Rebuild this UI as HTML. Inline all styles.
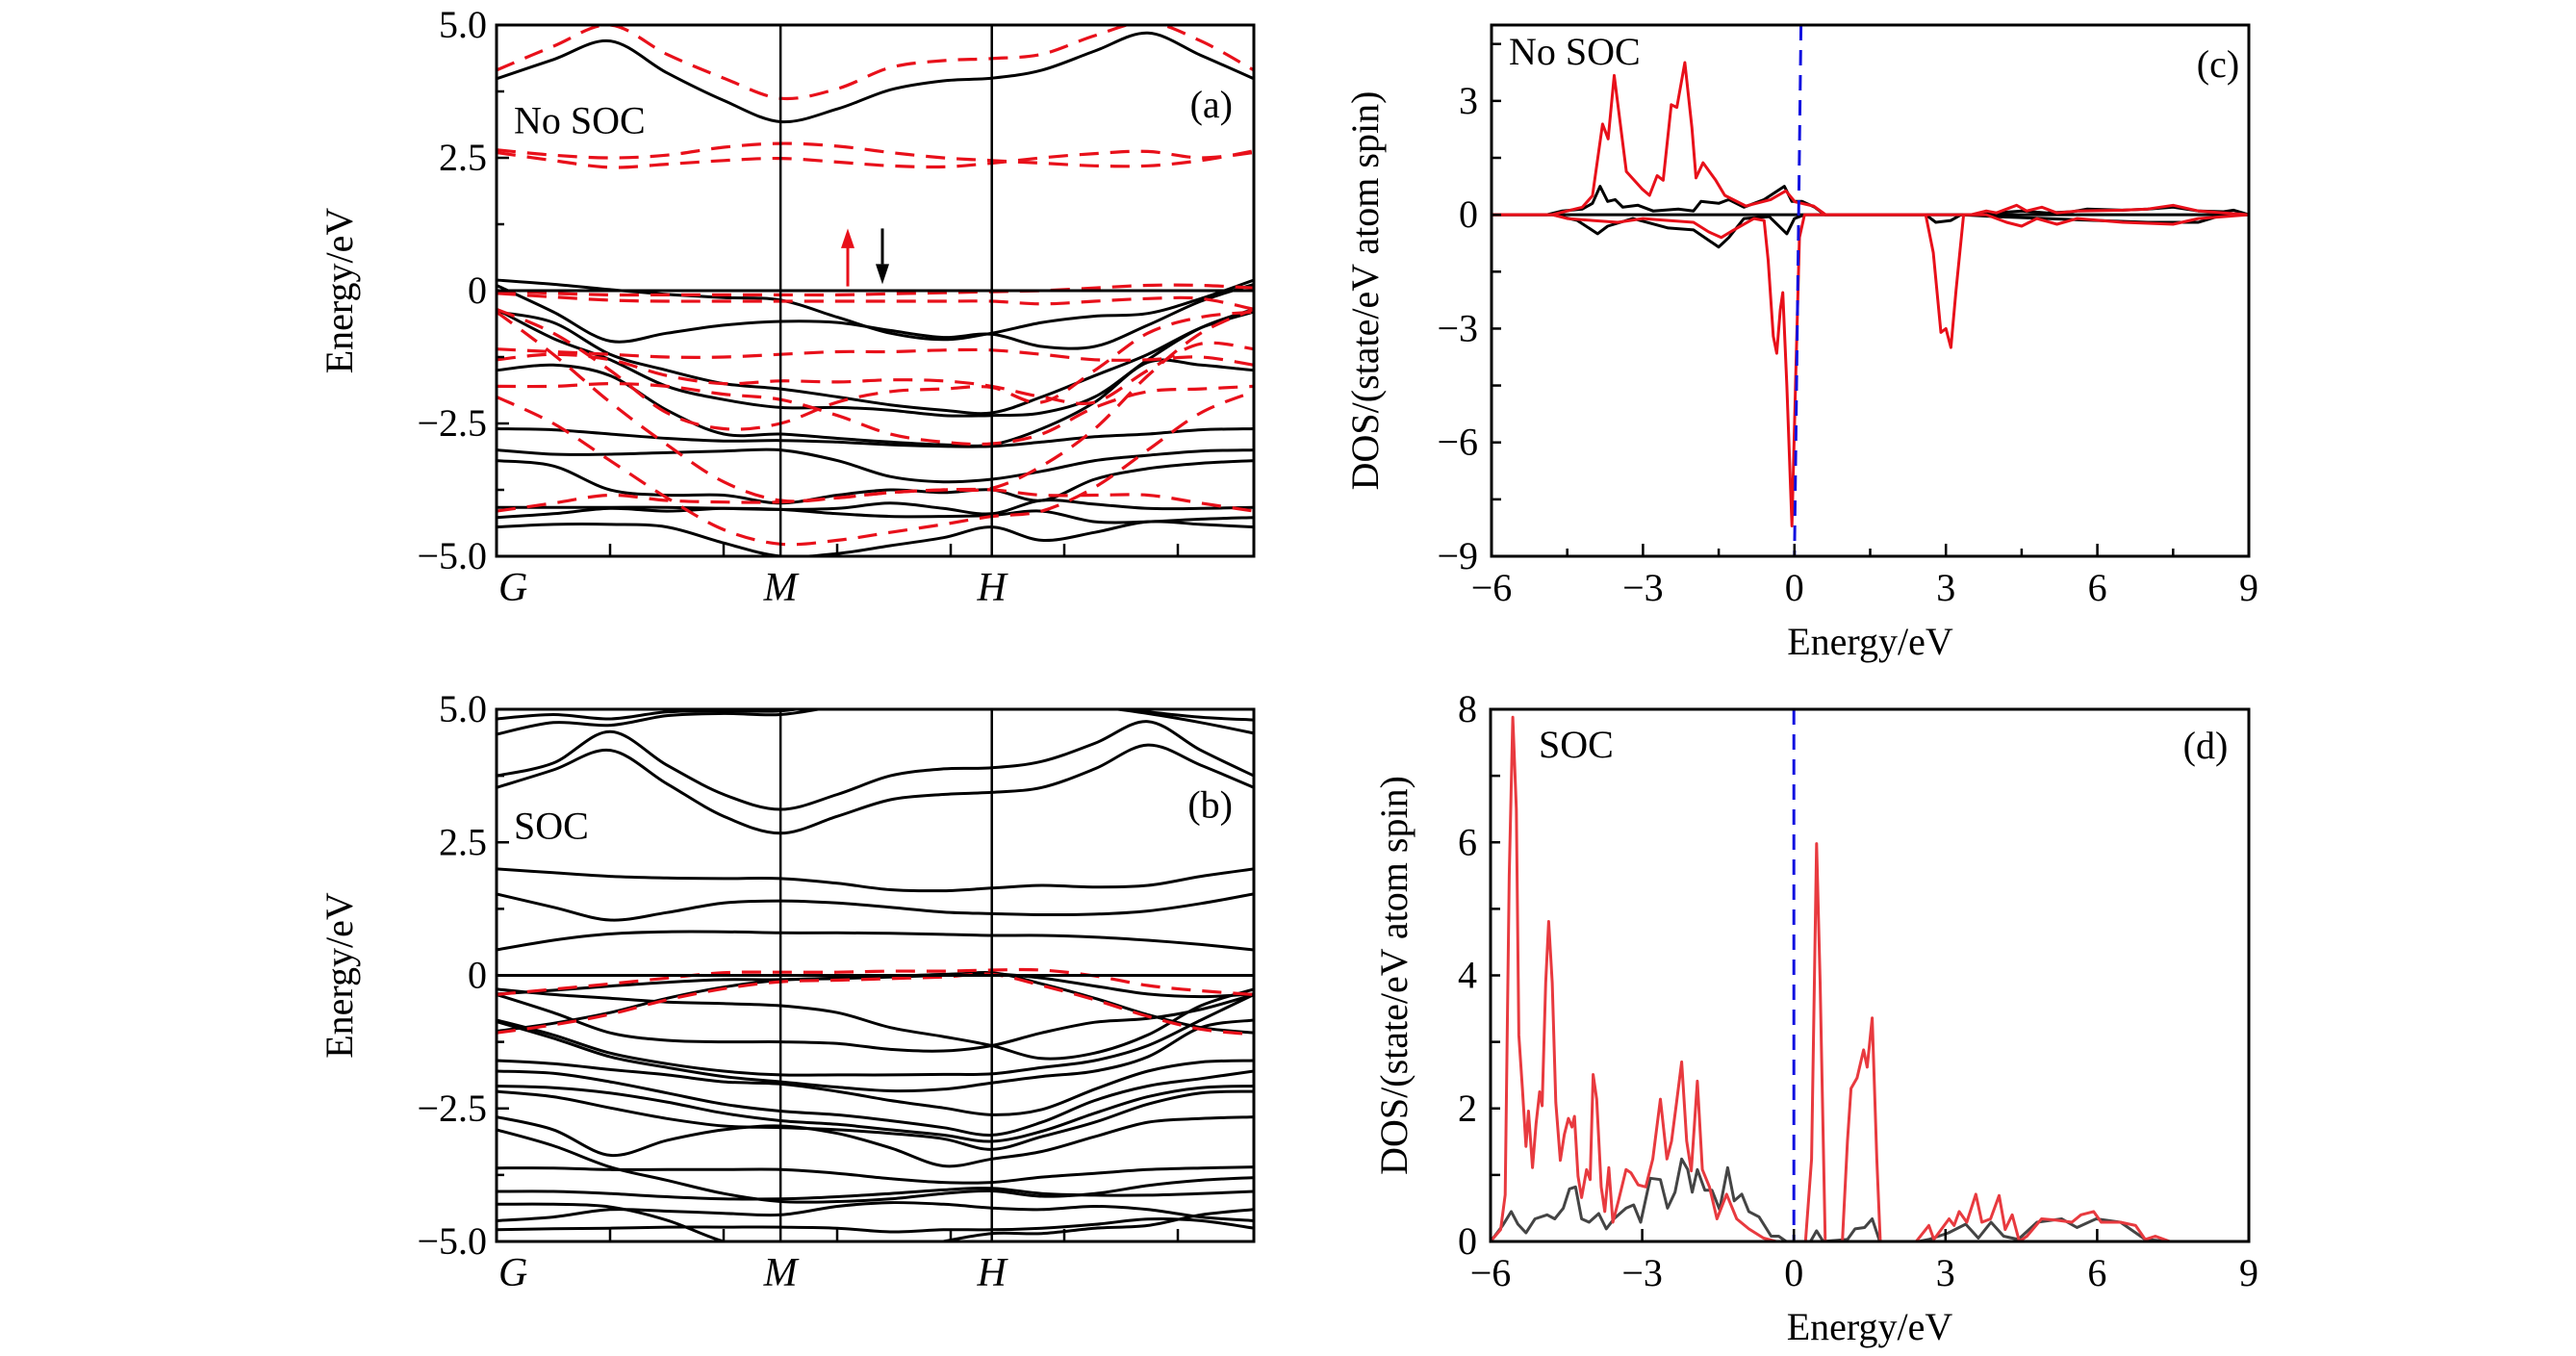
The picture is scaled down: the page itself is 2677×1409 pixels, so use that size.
<!DOCTYPE html>
<html><head><meta charset="utf-8">
<style>
html,body{margin:0;padding:0;background:#fff;}
svg{display:block;font-family:"Liberation Serif","DejaVu Serif",serif;}
text{font-family:"Liberation Serif","DejaVu Serif",serif;fill:#000;}
</style></head>
<body>
<svg id="fig" width="2677" height="1409" viewBox="0 0 2677 1409" xmlns="http://www.w3.org/2000/svg">
<defs>
<clipPath id="clipA"><rect x="516" y="26" width="787" height="552"/></clipPath>
<clipPath id="clipB"><rect x="516" y="737" width="787" height="553"/></clipPath>
<clipPath id="clipC"><rect x="1550" y="26" width="787" height="552"/></clipPath>
<clipPath id="clipD"><rect x="1549" y="737" width="788" height="553"/></clipPath>
</defs>
<g id="gA"></g>
<g id="gB"></g>
<g id="gC"></g>
<g id="gD"></g>
</svg>
<script>
// ---------- data ----------
const kPoints = [0,0.075,0.15,0.225,0.3,0.375,0.45,0.52,0.59,0.654,0.72,0.79,0.86,0.93,1];
const kLabels = ["G","M","H"];
const kLabelPos = [0,0.375,0.654];
const bandTicks = [5,2.5,0,-2.5,-5];
const bandTickLabels = ["5.0","2.5","0","\u22122.5","\u22125.0"];

const bandsANoSocBlack = [
[3.99,4.35,4.7,4.1,3.58,3.18,3.42,3.78,3.95,4.0,4.15,4.51,4.85,4.43,3.99],
[0.2,0.12,0.02,-0.07,-0.13,-0.18,-0.5,-0.8,-0.92,-0.8,-0.6,-0.48,-0.43,-0.15,0.2],
[0.1,-0.4,-0.95,-0.8,-0.65,-0.58,-0.6,-0.75,-0.88,-0.82,-1.05,-1.05,-0.65,-0.2,0.12],
[-0.4,-0.6,-1.2,-1.5,-1.75,-1.85,-2.0,-2.15,-2.25,-2.3,-2.0,-1.6,-1.2,-0.7,-0.4],
[-0.35,-0.9,-1.3,-1.8,-2.05,-2.2,-2.2,-2.25,-2.35,-2.35,-2.3,-2.0,-1.3,-0.7,-0.35],
[-1.5,-1.4,-1.6,-2.25,-2.7,-2.7,-2.78,-2.85,-2.9,-2.9,-2.6,-2.1,-1.35,-1.4,-1.5],
[-2.6,-2.62,-2.7,-2.78,-2.83,-2.82,-2.85,-2.9,-2.93,-2.93,-2.85,-2.75,-2.7,-2.62,-2.6],
[-3.0,-3.08,-3.08,-3.05,-3.02,-3.0,-3.2,-3.5,-3.6,-3.55,-3.4,-3.2,-3.1,-3.02,-3.0],
[-3.2,-3.3,-3.75,-3.85,-3.85,-4.0,-3.85,-3.75,-3.8,-3.75,-3.95,-3.55,-3.35,-3.25,-3.2],
[-4.08,-4.08,-4.08,-4.08,-4.1,-4.12,-4.1,-4.0,-4.1,-4.2,-3.95,-4.02,-4.1,-4.1,-4.08],
[-4.27,-4.2,-4.1,-4.15,-4.1,-4.12,-4.2,-4.25,-4.25,-4.23,-4.15,-4.35,-4.35,-4.3,-4.27],
[-4.45,-4.4,-4.4,-4.45,-4.75,-5.0,-4.95,-4.8,-4.65,-4.45,-4.7,-4.55,-4.35,-4.4,-4.45]
];
const bandsANoSocRed = [
[4.15,4.6,5.0,4.45,4.0,3.62,3.8,4.2,4.33,4.37,4.45,4.8,5.05,4.7,4.15],
[2.6,2.45,2.32,2.38,2.45,2.49,2.42,2.35,2.33,2.4,2.5,2.58,2.62,2.5,2.6],
[2.65,2.55,2.5,2.55,2.7,2.77,2.72,2.6,2.5,2.45,2.4,2.35,2.35,2.45,2.63],
[0.0,-0.05,-0.08,-0.08,-0.08,-0.08,-0.08,-0.06,-0.04,-0.02,0.0,0.05,0.1,0.1,0.05],
[-0.05,-0.12,-0.18,-0.2,-0.2,-0.2,-0.2,-0.2,-0.2,-0.2,-0.25,-0.2,-0.15,-0.15,-0.35],
[-0.35,-0.8,-1.5,-2.3,-2.6,-2.5,-2.1,-1.9,-1.85,-1.82,-2.1,-1.5,-0.8,-0.5,-0.4],
[-0.4,-1.2,-2.1,-2.9,-3.6,-3.95,-3.9,-3.8,-3.75,-3.72,-3.3,-2.6,-1.6,-0.8,-0.35],
[-1.1,-1.15,-1.2,-1.25,-1.25,-1.2,-1.15,-1.15,-1.12,-1.12,-1.2,-1.3,-1.3,-1.25,-1.4],
[-1.3,-1.2,-1.3,-1.6,-1.75,-1.7,-1.72,-1.68,-1.7,-1.8,-2.0,-2.1,-1.5,-1.0,-1.1],
[-1.8,-1.8,-1.75,-1.8,-1.95,-2.05,-2.35,-2.7,-2.85,-2.88,-2.7,-2.2,-1.9,-1.85,-1.8],
[-4.15,-4.0,-3.85,-3.95,-3.98,-3.98,-3.9,-3.8,-3.75,-3.75,-3.85,-3.85,-3.85,-4.0,-4.15],
[-2.0,-2.5,-3.2,-3.9,-4.5,-4.77,-4.7,-4.55,-4.4,-4.25,-4.15,-3.7,-3.0,-2.3,-1.9]
];
const bandsBSocBlack = [
[4.82,4.9,4.82,4.95,4.97,4.97,5.1,5.1,5.1,5.1,5.1,5.05,4.95,4.85,4.8],
[4.53,4.75,4.7,4.88,4.92,4.9,5.05,5.1,5.1,5.1,5.1,5.05,4.92,4.75,4.55],
[3.75,3.99,4.58,3.95,3.4,3.12,3.4,3.75,3.88,3.9,4.02,4.36,4.77,4.23,3.75],
[3.53,3.86,4.23,3.6,2.99,2.67,2.99,3.3,3.4,3.44,3.53,3.88,4.33,3.95,3.53],
[2.0,1.93,1.86,1.83,1.82,1.82,1.73,1.61,1.59,1.64,1.69,1.66,1.69,1.86,2.0],
[1.53,1.28,1.04,1.18,1.36,1.4,1.36,1.28,1.19,1.16,1.14,1.15,1.21,1.35,1.53],
[0.48,0.66,0.78,0.82,0.82,0.8,0.8,0.79,0.77,0.75,0.75,0.72,0.66,0.58,0.48],
[-0.35,-0.28,-0.2,-0.13,-0.08,-0.08,-0.05,-0.02,0.02,0.03,-0.05,-0.2,-0.35,-0.4,-0.35],
[-1.05,-0.9,-0.7,-0.43,-0.22,-0.09,-0.06,-0.03,0.0,0.05,-0.16,-0.43,-0.74,-0.98,-1.08],
[-0.26,-0.36,-0.43,-0.5,-0.53,-0.57,-0.7,-0.98,-1.15,-1.32,-1.56,-1.46,-1.12,-0.57,-0.26],
[-0.36,-0.7,-1.08,-1.22,-1.25,-1.25,-1.28,-1.39,-1.42,-1.32,-1.08,-0.88,-0.81,-0.64,-0.36],
[-0.84,-1.12,-1.46,-1.66,-1.8,-1.87,-1.87,-1.87,-1.86,-1.85,-1.73,-1.6,-1.32,-0.84,-0.36],
[-0.87,-1.18,-1.53,-1.73,-1.9,-2.0,-2.1,-2.17,-2.14,-2.02,-1.9,-1.8,-1.53,-0.98,-0.84],
[-1.6,-1.66,-1.77,-1.87,-2.0,-2.04,-2.18,-2.35,-2.49,-2.62,-2.52,-2.14,-1.8,-1.63,-1.6],
[-1.8,-1.84,-2.0,-2.21,-2.42,-2.55,-2.62,-2.73,-2.86,-3.0,-2.76,-2.35,-2.08,-1.94,-1.8],
[-2.08,-2.11,-2.21,-2.38,-2.59,-2.73,-2.8,-2.9,-3.0,-3.12,-2.93,-2.59,-2.28,-2.11,-2.08],
[-2.18,-2.28,-2.49,-2.69,-2.83,-2.86,-2.9,-2.97,-3.07,-3.27,-3.03,-2.76,-2.42,-2.21,-2.18],
[-2.66,-2.9,-3.38,-3.1,-2.9,-2.83,-2.97,-3.24,-3.58,-3.45,-3.31,-3.03,-2.76,-2.69,-2.66],
[-3.62,-3.62,-3.65,-3.65,-3.65,-3.65,-3.72,-3.82,-3.89,-3.89,-3.79,-3.72,-3.65,-3.62,-3.6],
[-4.06,-4.06,-4.1,-4.16,-4.2,-4.2,-4.16,-4.1,-4.03,-4.0,-4.1,-4.13,-4.13,-4.1,-4.06],
[-2.9,-3.2,-3.6,-3.85,-4.1,-4.25,-4.25,-4.2,-4.1,-4.05,-4.15,-4.1,-3.95,-3.85,-3.8],
[-4.61,-4.54,-4.4,-4.43,-4.47,-4.5,-4.34,-4.27,-4.3,-4.37,-4.4,-4.34,-4.4,-4.54,-4.61],
[-4.78,-4.76,-4.75,-4.73,-4.73,-4.73,-4.75,-4.82,-4.78,-4.78,-4.75,-4.68,-4.58,-4.61,-4.75],
[-4.3,-4.3,-4.35,-4.6,-5.0,-5.2,-5.2,-5.2,-5.0,-4.85,-4.85,-4.75,-4.7,-4.5,-4.4]
];
const bandsBSocRed = [
[-0.36,-0.26,-0.16,-0.05,0.05,0.06,0.06,0.08,0.08,0.1,0.1,-0.01,-0.19,-0.29,-0.36],
[-1.08,-0.93,-0.73,-0.46,-0.25,-0.12,-0.09,-0.06,-0.03,0.02,-0.19,-0.46,-0.77,-1.01,-1.11]
];

// DOS (c): energies and values
const dosCUpRedE = [-6,-4.8,-4.5,-4.2,-4.0,-3.8,-3.69,-3.57,-3.33,-3.02,-2.87,-2.72,-2.6,-2.44,-2.33,-2.17,-2.03,-1.95,-1.81,-1.56,-1.38,-0.96,-0.47,-0.17,0.01,0.38,0.62,3.5,3.8,4.0,4.4,4.6,4.9,5.2,5.6,6.5,7.0,7.5,8.0,8.5,9];
const dosCUpRedV = [0,0,0.1,0.2,0.5,2.39,2.0,3.67,1.14,0.68,0.51,1.03,0.91,2.9,2.83,4.01,2.28,0.97,1.37,0.91,0.51,0.23,0.4,0.63,0.34,0.23,0,0,0.1,0.05,0.25,0.1,0.2,0.05,0.1,0.12,0.15,0.25,0.1,0.05,0];
const dosCUpBlackE = [-6,-4.9,-4.6,-4.2,-4.0,-3.85,-3.7,-3.55,-3.4,-3.1,-2.8,-2.3,-2.0,-1.85,-1.5,-1.3,-1.0,-0.6,-0.2,-0.05,0.15,0.4,0.6,3.6,4.0,4.5,5.0,5.5,5.8,6.5,7.0,7.5,8.0,8.5,8.7,9];
const dosCUpBlackV = [0,0,0.1,0.15,0.3,0.75,0.35,0.4,0.2,0.25,0.1,0.15,0.1,0.35,0.3,0.4,0.2,0.4,0.75,0.35,0.35,0.2,0,0,0.05,0.1,0.05,0.08,0.15,0.12,0.15,0.2,0.1,0.08,0.12,0];
const dosCDnRedE = [-6,-4.8,-4.5,-4.0,-3.5,-3.0,-2.5,-2.0,-1.7,-1.45,-1.2,-0.8,-0.6,-0.52,-0.42,-0.35,-0.28,-0.23,-0.15,-0.05,0.03,0.1,0.2,2.6,2.75,2.9,3.0,3.1,3.2,3.35,3.8,4.2,4.5,4.8,5.2,5.6,6.5,7.5,8.0,9];
const dosCDnRedV = [0,0,-0.1,-0.15,-0.2,-0.1,-0.15,-0.2,-0.45,-0.6,-0.4,-0.1,-0.15,-1.2,-3.2,-3.65,-2.5,-2.05,-4.5,-8.2,-4,-0.6,0,0,-1,-3.1,-3.0,-3.5,-2,0,0,-0.2,-0.3,-0.1,-0.25,-0.1,-0.2,-0.25,-0.1,0];
const dosCDnBlackE = [-6,-4.8,-4.3,-3.9,-3.7,-3.2,-2.5,-2.0,-1.5,-1.3,-1.0,-0.5,-0.15,0.0,0.2,2.6,2.8,3.1,3.3,4,5,6,7,8,8.5,9];
const dosCDnBlackV = [0,0,-0.15,-0.5,-0.3,-0.1,-0.35,-0.4,-0.85,-0.6,-0.1,-0.05,-0.5,-0.1,0,0,-0.2,-0.15,0,-0.05,-0.1,-0.15,-0.2,-0.2,0,0];
const dosCXTicks = [-6,-3,0,3,6,9];
const dosCXTickLabels = ["\u22126","\u22123","0","3","6","9"];
const dosCYTicks = [3,0,-3,-6,-9];
const dosCYTickLabels = ["3","0","\u22123","\u22126","\u22129"];

// DOS (d)
const dosDRedE = [-6,-5.8,-5.71,-5.63,-5.56,-5.49,-5.44,-5.37,-5.3,-5.25,-5.17,-5.1,-5.03,-4.98,-4.91,-4.85,-4.78,-4.71,-4.62,-4.54,-4.46,-4.39,-4.34,-4.27,-4.2,-4.1,-4.03,-3.97,-3.9,-3.81,-3.74,-3.66,-3.58,-3.47,-3.32,-3.22,-3.08,-2.93,-2.79,-2.64,-2.51,-2.42,-2.32,-2.22,-2.12,-2.03,-1.91,-1.81,-1.67,-1.52,-1.33,-1.13,-0.89,-0.6,-0.35,0.23,0.35,0.45,0.52,0.62,0.96,1.06,1.13,1.25,1.38,1.45,1.55,1.64,1.71,2.42,2.67,2.77,3.07,3.17,3.27,3.42,3.6,3.72,3.89,4.06,4.18,4.32,4.46,4.61,4.9,5.2,5.5,5.68,5.93,6.08,6.46,6.76,6.95,7.15,7.44,9];
const dosDRedV = [0,0.18,0.7,5.5,7.88,6.5,3.1,2.3,1.43,1.96,1.11,1.77,2.25,2.04,3.89,4.81,3.89,2.09,1.22,1.61,1.85,1.72,1.88,0.98,0.66,1.08,0.93,2.51,2.14,0.82,0.45,1.11,0.29,0.61,1.08,1.03,0.85,0.82,1.24,2.14,1.24,1.51,2.09,2.7,1.51,1.06,2.41,1.08,0.82,0.34,0.71,0.34,0.19,0.05,0,0,1.24,5.98,3.89,0,0,1.51,2.3,2.46,2.88,2.62,3.36,1.24,0,0,0.24,0.03,0.34,0.24,0.45,0.29,0.71,0.29,0.34,0.69,0.18,0.4,0,0.08,0.34,0.32,0.29,0.4,0.45,0.29,0.29,0.24,0.03,0.08,0,0];
const dosDBlackE = [-6,-5.76,-5.59,-5.46,-5.3,-5.12,-4.88,-4.73,-4.56,-4.44,-4.32,-4.2,-4.05,-3.86,-3.71,-3.56,-3.32,-3.17,-3.03,-2.84,-2.64,-2.5,-2.35,-2.22,-2.1,-2.01,-1.91,-1.76,-1.62,-1.47,-1.31,-1.18,-1.03,-0.89,-0.69,-0.45,-0.3,-0.15,0.33,0.45,0.58,1.06,1.21,1.4,1.55,1.7,2.47,2.67,3.06,3.4,3.65,3.9,4.15,4.44,4.81,5.3,5.6,5.98,6.46,6.95,7.44,9];
const dosDBlackV = [0,0.24,0.45,0.26,0.13,0.34,0.4,0.34,0.5,0.79,0.82,0.34,0.29,0.42,0.19,0.34,0.5,0.55,0.29,0.95,0.93,0.5,0.74,1.24,1.08,0.74,1.08,0.77,0.77,0.48,1.11,0.61,0.71,0.45,0.37,0.08,0.08,0,0,0.16,0,0.03,0.19,0.21,0.34,0,0,0.03,0.13,0.26,0.05,0.29,0.08,0.03,0.29,0.34,0.21,0.34,0.29,0.03,0,0];
const dosDXTicks = [-6,-3,0,3,6,9];
const dosDXTickLabels = ["\u22126","\u22123","0","3","6","9"];
const dosDYTicks = [0,2,4,6,8];
const dosDYTickLabels = ["0","2","4","6","8"];
const fermiLineE = [0.13,0.0];
const fermiLineNoSocY = [5,-9];
const fermiLineSocE = [0,0];
const fermiLineSocY = [8,0];

// ---------- drawing ----------
const NS="http://www.w3.org/2000/svg";
const FONT='"Liberation Serif","DejaVu Serif",serif';
function mk(parent,tag,attrs){const e=document.createElementNS(NS,tag);for(const k in attrs)e.setAttribute(k,attrs[k]);parent.appendChild(e);return e;}
function smooth(pts){let d=`M${pts[0][0].toFixed(1)},${pts[0][1].toFixed(1)}`;for(let i=0;i<pts.length-1;i++){const p0=pts[i-1]||pts[i],p1=pts[i],p2=pts[i+1],p3=pts[i+2]||p2;const c1x=p1[0]+(p2[0]-p0[0])/6,c1y=p1[1]+(p2[1]-p0[1])/6,c2x=p2[0]-(p3[0]-p1[0])/6,c2y=p2[1]-(p3[1]-p1[1])/6;d+=` C${c1x.toFixed(1)},${c1y.toFixed(1)} ${c2x.toFixed(1)},${c2y.toFixed(1)} ${p2[0].toFixed(1)},${p2[1].toFixed(1)}`;}return d;}
function poly(xs,ys,sx,sy){return xs.map((x,i)=>`${i?'L':'M'}${sx(x).toFixed(1)},${sy(ys[i]).toFixed(1)}`).join(' ');}
function txt(parent,x,y,s,size,anchor,extra){const t=mk(parent,'text',Object.assign({x:x,y:y,'font-size':size,'text-anchor':anchor||'middle','font-family':FONT},extra||{}));t.style.fontFamily=FONT;t.textContent=s;return t;}

function bandPanel(g,L,T,W,H,clipId,black,red,label,tag,showArrows){
  const sx=k=>L+k*W, sy=e=>T+(5-e)/10*H;
  const cg=mk(g,'g',{'clip-path':`url(#${clipId})`});
  
  
  black.forEach((b,i)=>{const p=mk(cg,'path',{d:smooth(b.map((e,j)=>[sx(kPoints[j]),sy(e)])),fill:'none',stroke:'#000','stroke-width':3});
    
    });
  red.forEach((b,i)=>{const p=mk(cg,'path',{d:smooth(b.map((e,j)=>[sx(kPoints[j]),sy(e)])),fill:'none',stroke:'#e8101a','stroke-width':3.2,'stroke-dasharray':'20 12'});
    
    });
  const fl=mk(g,'line',{x1:L,x2:L+W,y1:sy(0),y2:sy(0),stroke:'#000','stroke-width':3});
  
  
  kLabelPos.forEach((k,i)=>{if(k>0){const v=mk(g,'line',{x1:sx(k),x2:sx(k),y1:T,y2:T+H,stroke:'#000','stroke-width':2.5});
    
    }
    const t=txt(g,sx(k)+(k===0?2:0),T+H+46,kLabels[i],42,k===0?'start':'middle',{'font-style':'italic'});
    
    });
  for(let i=1;i<=6;i++){const x=L+i*118;mk(g,'line',{x1:x,x2:x,y1:T+H,y2:T+H-13,stroke:'#000','stroke-width':2.5});}
  for(let e=-5;e<=5;e+=1.25){const maj=Math.abs(e/2.5-Math.round(e/2.5))<1e-6;mk(g,'line',{x1:L,x2:L+(maj?13:8),y1:sy(e),y2:sy(e),stroke:'#000','stroke-width':2.5});}
  bandTicks.forEach((e,i)=>{const t=txt(g,L-10,sy(e)+13,bandTickLabels[i],40,'end');
    
    });
  const ax=mk(g,'rect',{x:L,y:T,width:W,height:H,fill:'none',stroke:'#000','stroke-width':3});
  
  
  const yl=txt(g,0,0,'Energy/eV',40,'middle',{transform:`translate(${L-150},${T+H/2}) rotate(-90)`});
  
  
  const lb=txt(g,L+18,sy(label[1])+13,label[0],40,'start');
  
  
  const tg=txt(g,L+W-22,sy(tag[1])+13,tag[0],40,'end');
  
  
  if(showArrows){
    const ra=mk(g,'g',{});
    
    
    mk(ra,'line',{x1:881,x2:881,y1:sy(0.08),y2:sy(0.85),stroke:'#e8101a','stroke-width':3});
    mk(ra,'polygon',{points:`${874},${sy(0.8)} ${888},${sy(0.8)} ${881},${sy(1.17)}`,fill:'#e8101a'});
    const ba=mk(g,'g',{});
    
    
    mk(ba,'line',{x1:917,x2:917,y1:sy(1.17),y2:sy(0.5),stroke:'#000','stroke-width':3});
    mk(ba,'polygon',{points:`${910},${sy(0.5)} ${924},${sy(0.5)} ${917},${sy(0.12)}`,fill:'#000'});
  }
}

bandPanel(document.getElementById('gA'),516,26,787,552,'clipA',bandsANoSocBlack,bandsANoSocRed,['No SOC',3.2],['(a)',3.5],true);
bandPanel(document.getElementById('gB'),516,737,787,553,'clipB',bandsBSocBlack,bandsBSocRed,['SOC',2.8],['(b)',3.2],false);

function dosPanel(g,L,T,W,H,clipId,ymin,ymax,series,xt,xtl,yt,ytl,minorY,minorX,fermiE,fermiY,label,tag,ylx,titleY){
  const sx=e=>L+(e+6)/15*W, sy=v=>T+(ymax-v)/(ymax-ymin)*H;
  const cg=mk(g,'g',{'clip-path':`url(#${clipId})`});
  if(ymin<0){const z=mk(cg,'line',{x1:L,x2:L+W,y1:sy(0),y2:sy(0),stroke:'#000','stroke-width':3});
    
    }
  series.forEach(s=>{const p=mk(cg,'path',{d:poly(s.e,s.v,sx,sy),fill:'none',stroke:s.c,'stroke-width':3,'stroke-linejoin':'round'});
    
    });
  const fl=mk(cg,'path',{d:poly(fermiE,fermiY,sx,sy),stroke:'#1010e0','stroke-width':3,'stroke-dasharray':'16 10',fill:'none'});
  
  
  for(let e=-6;e<=9+1e-6;e+=minorX){const maj=Math.abs(e/3-Math.round(e/3))<1e-6;mk(g,'line',{x1:sx(e),x2:sx(e),y1:T+H,y2:T+H-(maj?13:8),stroke:'#000','stroke-width':2.5});}
  for(let v=ymin;v<=ymax+1e-6;v+=minorY){mk(g,'line',{x1:L,x2:L+10,y1:sy(v),y2:sy(v),stroke:'#000','stroke-width':2.5});}
  xt.forEach((e,i)=>{const t=txt(g,sx(e),T+H+46,xtl[i],40,'middle');
    
    });
  yt.forEach((v,i)=>{const t=txt(g,L-14,sy(v)+13,ytl[i],40,'end');
    
    });
  const ax=mk(g,'rect',{x:L,y:T,width:W,height:H,fill:'none',stroke:'#000','stroke-width':3});
  
  
  const xl=txt(g,L+W/2,titleY,'Energy/eV',40,'middle');
  
  
  const yl=txt(g,0,0,'DOS/(state/eV atom spin)',40,'middle',{transform:`translate(${ylx},${T+H/2}) rotate(-90)`});
  
  
  const lb=txt(g,label[1],label[2],label[0],40,'start');
  
  
  const tg=txt(g,tag[1],tag[2],tag[0],40,'middle');
  
  
}

dosPanel(document.getElementById('gC'),1550,26,787,552,'clipC',-9,5,[
  {e:dosCUpBlackE,v:dosCUpBlackV,c:'#000',n:'dos-spin-up-black'},
  {e:dosCDnBlackE,v:dosCDnBlackV,c:'#000',n:'dos-spin-down-black'},
  {e:dosCUpRedE,v:dosCUpRedV,c:'#e8101a',n:'dos-spin-up-red'},
  {e:dosCDnRedE,v:dosCDnRedV,c:'#e8101a',n:'dos-spin-down-red'}
],dosCXTicks,dosCXTickLabels,dosCYTicks,dosCYTickLabels,1.5,1.5,fermiLineE,fermiLineNoSocY,['No SOC',1568,67],['(c)',2305,80],1432,680);

dosPanel(document.getElementById('gD'),1549,737,788,553,'clipD',0,8,[
  {e:dosDBlackE,v:dosDBlackV,c:'#444',n:'dos-soc-black'},
  {e:dosDRedE,v:dosDRedV,c:'#e83a3f',n:'dos-soc-red'}
],dosDXTicks,dosDXTickLabels,dosDYTicks,dosDYTickLabels,1,3,fermiLineSocE,fermiLineSocY,['SOC',1599,787],['(d)',2292,788],1462,1392);
</script>
</body></html>
